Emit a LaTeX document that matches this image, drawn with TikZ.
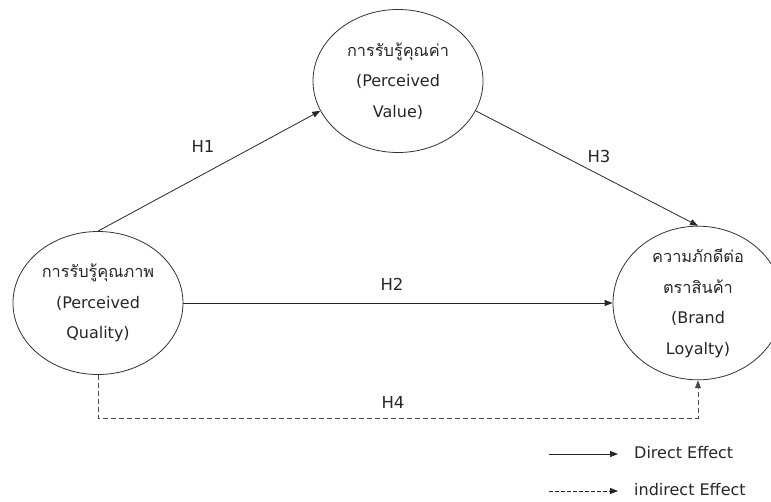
\documentclass[tikz,border=0pt]{standalone}
\usepackage{fontspec}
\setmainfont{DejaVu Sans}
\newfontfamily\thaifont[Script=Thai,Scale=1.02]{Loma}
\usetikzlibrary{shapes.geometric,arrows.meta}

\tikzset{
  construct/.style={ellipse, draw=black!80, line width=0.8pt, minimum width=170pt,
    minimum height=143pt, inner sep=0pt, align=center,
    font=\fontsize{16}{30.5}\selectfont, text=black!85},
  hyplabel/.style={font=\fontsize{16.5}{19}\selectfont, text=black!85},
  direct/.style={draw=black!85, line width=0.8pt, -{Triangle[length=8pt,width=6pt]}},
  indirect/.style={draw=black!70, line width=0.8pt, dash pattern=on 5pt off 3pt,
    -{Triangle[length=8pt,width=6pt]}},
  legendtext/.style={font=\fontsize{16}{18}\selectfont, text=black!85, anchor=west, inner sep=0pt}
}

\begin{document}
\begin{tikzpicture}[x=1pt,y=-1pt]
  \useasboundingbox (0,0) rectangle (771,501);

  % constructs
  \node[construct] (pq) at (98,303) {{\thaifont การรับรู้คุณภาพ}\\(Perceived\\Quality)};
  \node[construct] (pv) at (398,81) {{\thaifont การรับรู้คุณค่า}\\(Perceived\\Value)};
  \node[construct] (bl) at (698,303) {{\thaifont ความภักดีต่อ}\\{\thaifont ตราสินค้า}\\(Brand\\Loyalty)};

  % hypothesised paths
  \draw[direct] (pq.north) -- (pv.201);
  \draw[direct] (pv.-21) -- (bl.north);
  \draw[direct] (pq.east) -- (bl.west);
  \coordinate (h4level) at (0,418);
  \draw[indirect] (pq.south) -- (pq.south |- h4level) -| (bl.south);

  % path labels
  \node[hyplabel] (h1) at (203,146) {H1};
  \node[hyplabel] (h2) at (392,284) {H2};
  \node[hyplabel] (h3) at (599,156) {H3};
  \node[hyplabel] (h4) at (393,402) {H4};

  % legend
  \coordinate (ds) at (549,454);
  \coordinate (de) at (618,454);
  \coordinate (is) at (549,491);
  \coordinate (ie) at (618,491);
  \draw[direct] (ds) -- (de);
  \draw[indirect, dash pattern=on 4pt off 2pt, draw=black!85] (is) -- (ie);
  \node[legendtext] (dlabel) at (634,453) {Direct Effect};
  \node[legendtext] (ilabel) at (634,490) {indirect Effect};
\end{tikzpicture}
\end{document}
